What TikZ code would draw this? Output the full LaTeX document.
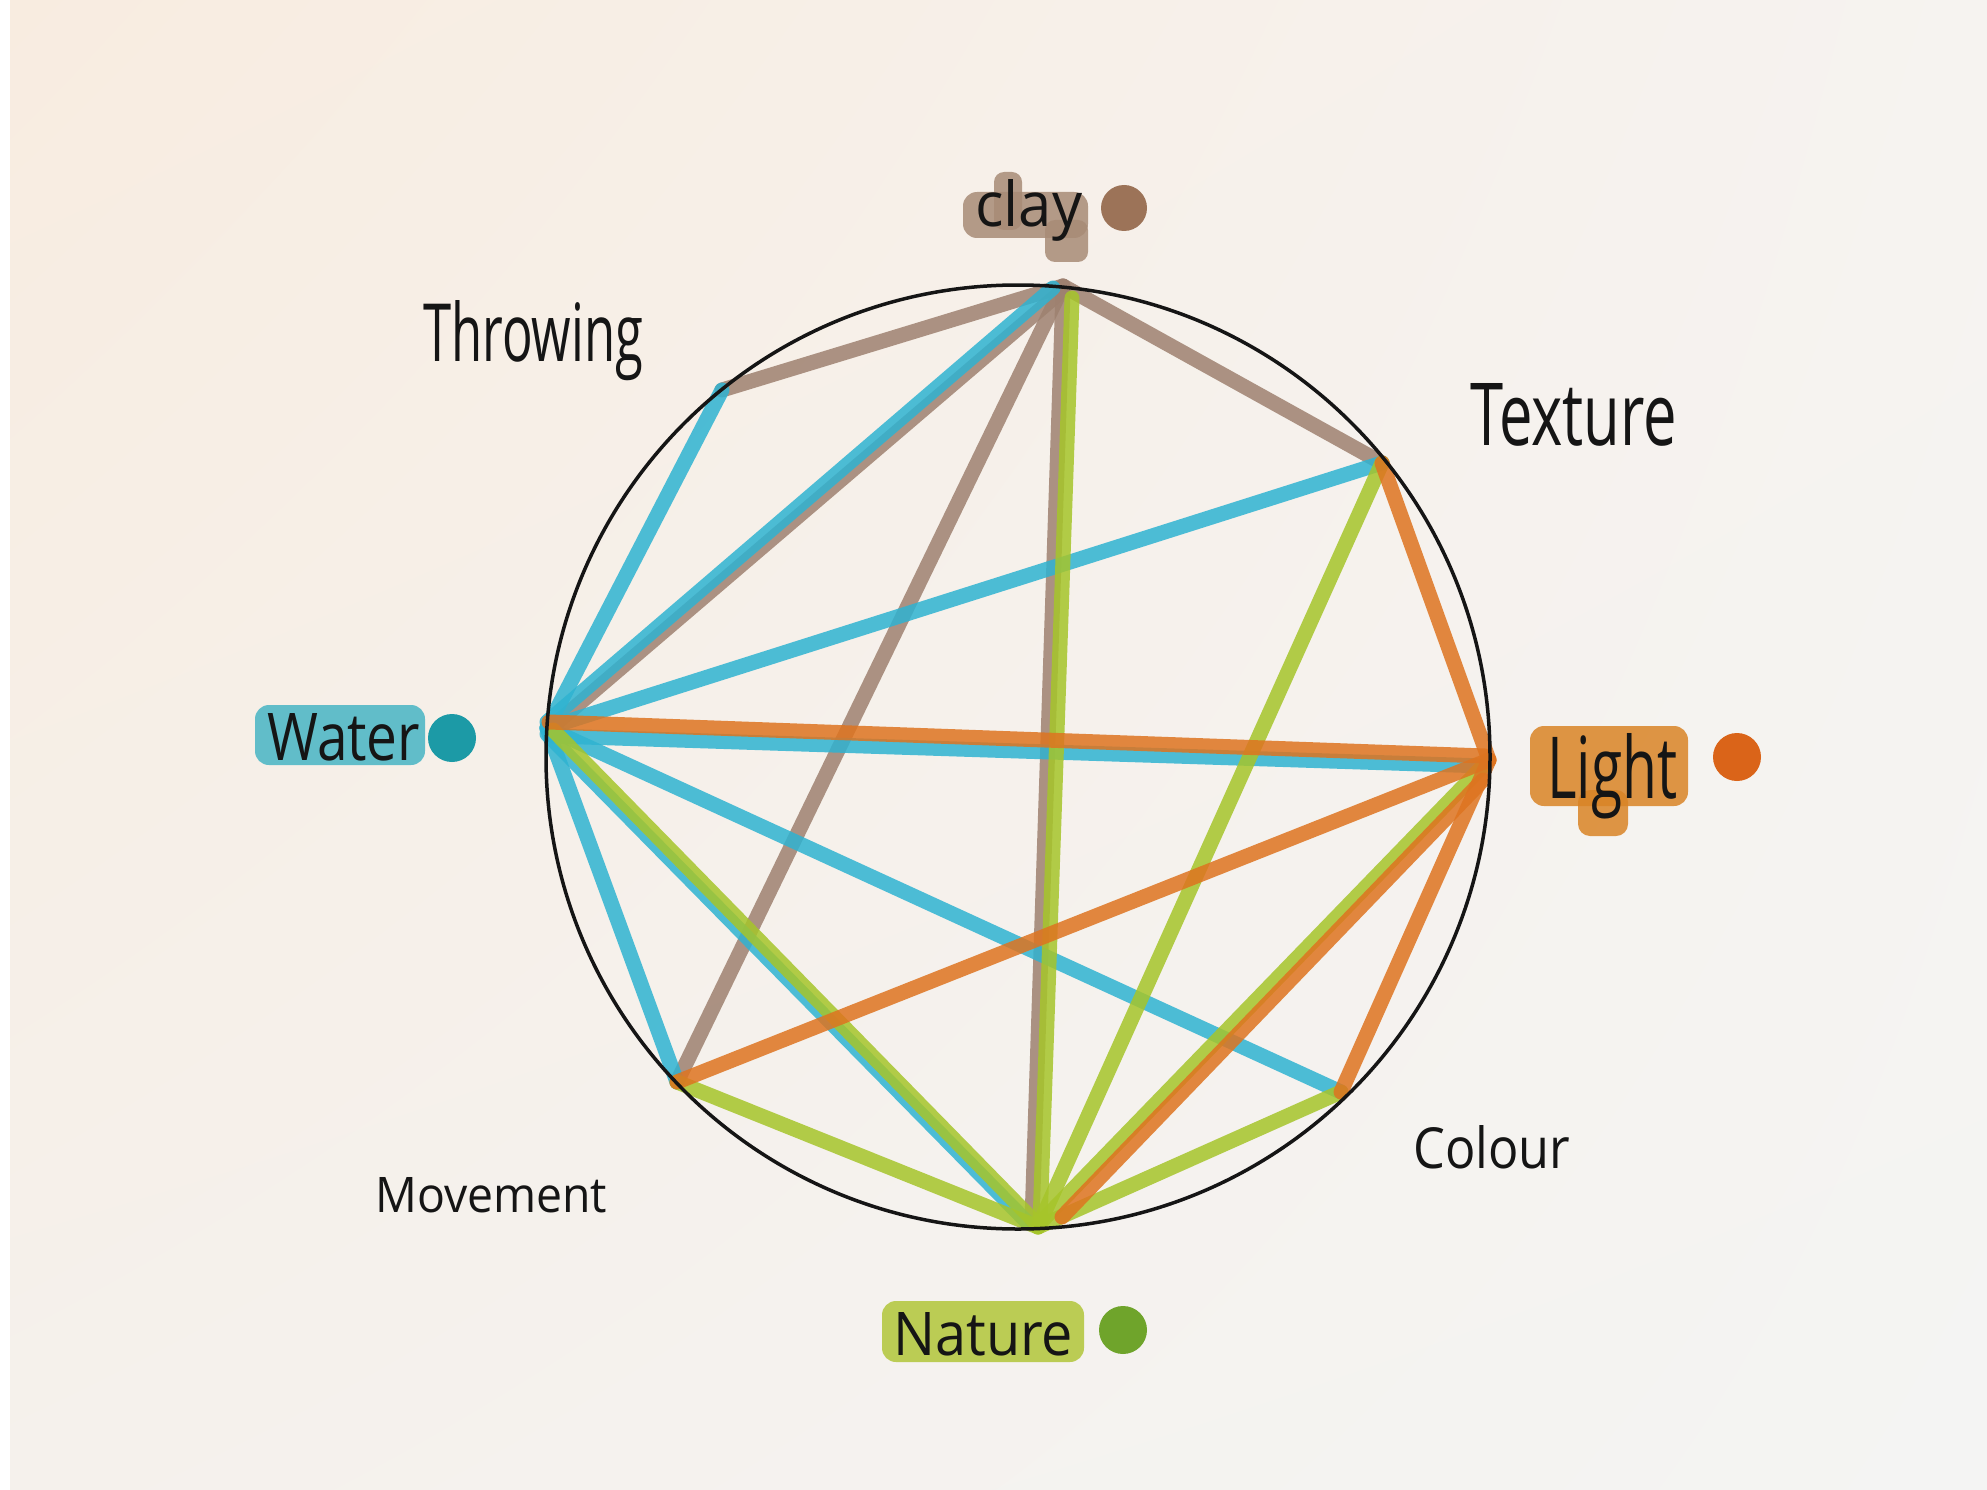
\documentclass[tikz,border=0pt]{standalone}
\usepackage{fontspec}
\setmainfont{Open Sans}
\usetikzlibrary{calc,shadings}
\definecolor{paperA}{HTML}{F8ECE0}
\definecolor{paperB}{HTML}{F6F3F0}
\definecolor{paperC}{HTML}{F5F1EC}
\definecolor{paperD}{HTML}{F4F4F3}
\definecolor{brownC}{HTML}{9E8170}
\definecolor{blueC}{HTML}{2FB3D1}
\definecolor{greenC}{HTML}{A6C52A}
\definecolor{orangeC}{HTML}{DE7420}
\definecolor{inkC}{HTML}{151515}
\definecolor{washClay}{HTML}{A88B76}
\definecolor{washWater}{HTML}{47B5C4}
\definecolor{washLight}{HTML}{D98426}
\definecolor{washNature}{HTML}{B2C63A}
\definecolor{dotClay}{HTML}{9C7358}
\definecolor{dotWater}{HTML}{1C9AA6}
\definecolor{dotLight}{HTML}{DA6419}
\definecolor{dotNature}{HTML}{6FA42B}
\begin{document}
\begin{tikzpicture}[x=1pt,y=-1pt,
  mk/.style={line width=15pt,line cap=round,opacity=0.85},
  brn/.style={mk,draw=brownC},
  blu/.style={mk,draw=blueC},
  grn/.style={mk,draw=greenC},
  org/.style={mk,draw=orangeC},
  wash/.style={rounded corners=14pt,opacity=0.85},
  lab/.style={inner sep=0pt,anchor=base west,text=inkC},
  dotstyle/.style={circle,inner sep=0pt,minimum size=48pt}]
\useasboundingbox (0,0) rectangle (1987,1490);
\shade[upper left=paperA,upper right=paperB,lower left=paperC,lower right=paperD] (0,0) rectangle (1987,1490);
\fill[white] (0,0) rectangle (10,1490);
% points
\coordinate (clay) at (1063,286);
\coordinate (texture) at (1382,463);
\coordinate (light) at (1489,760);
\coordinate (colour) at (1341,1092);
\coordinate (nature) at (1038,1227);
\coordinate (movement) at (677,1082);
\coordinate (water) at (547,728);
\coordinate (throwing) at (722,390);
% brown
\draw[brn] (clay) -- (throwing);
\draw[brn] (clay) -- (texture);
\draw[brn] ($(water)+(6,-2)$) -- ($(clay)+(0,4)$);
\draw[brn] (clay) -- (movement);
\draw[brn] ($(clay)+(0,4)$) -- ($(nature)+(-6,-6)$);
% blue
\draw[blu] (water) -- (throwing);
\draw[blu] ($(water)+(0,-6)$) -- ($(clay)+(-10,2)$);
\draw[blu] (water) -- (texture);
\draw[blu] ($(water)+(6,8)$) -- ($(light)+(-4,6)$);
\draw[blu] (water) -- (colour);
\draw[blu] ($(water)+(0,6)$) -- ($(nature)+(-12,-6)$);
\draw[blu] (water) -- (movement);
% green
\draw[grn] ($(clay)+(9,12)$) -- ($(nature)+(2,-4)$);
\draw[grn] (nature) -- (texture);
\draw[grn] ($(light)+(-4,4)$) -- ($(nature)+(4,-6)$);
\draw[grn] (nature) -- (colour);
\draw[grn] (nature) -- (movement);
\draw[grn] ($(water)+(6,2)$) -- ($(nature)+(-4,-6)$);
% orange
\draw[org] (light) -- (texture);
\draw[org] ($(water)+(2,-6)$) -- ($(light)+(-4,-4)$);
\draw[org] (light) -- (movement);
\draw[org] ($(light)+(-6,20)$) -- ($(nature)+(24,-10)$);
\draw[org] (light) -- (colour);
% ring
\draw[inkC,line width=3.5pt] (1018,757) circle (472);
% colour washes behind the coloured labels
\fill[wash,fill=washClay] (963,192) rectangle (1088,238);
\fill[wash,fill=washClay,rounded corners=10pt] (994,172) rectangle (1022,230);
\fill[wash,fill=washClay,rounded corners=10pt] (1045,220) rectangle (1088,262);
\fill[wash,fill=washWater] (255,705) rectangle (425,765);
\fill[wash,fill=washLight] (1530,726) rectangle (1688,806);
\fill[wash,fill=washLight,rounded corners=12pt] (1578,790) rectangle (1628,836);
\fill[wash,fill=washNature] (882,1301) rectangle (1084,1362);
% labels
\node[lab] (claytxt) at (975,227) {\resizebox{107pt}{47pt}{clay}};
\node[lab] (watertxt) at (267,760) {\resizebox{153pt}{47pt}{Water}};
\node[lab] (lighttxt) at (1547,798) {\resizebox{130pt}{65pt}{Light}};
\node[lab] (naturetxt) at (893,1355) {\resizebox{180pt}{43pt}{Nature}};
\node[lab] (throwtxt) at (423,361) {\resizebox{220pt}{61pt}{Throwing}};
\node[lab] (texttxt) at (1470,445) {\resizebox{207pt}{62pt}{Texture}};
\node[lab] (colourtxt) at (1413,1168) {\resizebox{157pt}{43pt}{Colour}};
\node[lab] (movetxt) at (375,1212) {\resizebox{232pt}{35pt}{Movement}};
% dots
\node[dotstyle,fill=dotClay,minimum size=46pt] (claydot) at (1124,208) {};
\node[dotstyle,fill=dotWater] (waterdot) at (452,738) {};
\node[dotstyle,fill=dotLight] (lightdot) at (1737,757) {};
\node[dotstyle,fill=dotNature] (naturedot) at (1123,1330) {};
\end{tikzpicture}
\end{document}
